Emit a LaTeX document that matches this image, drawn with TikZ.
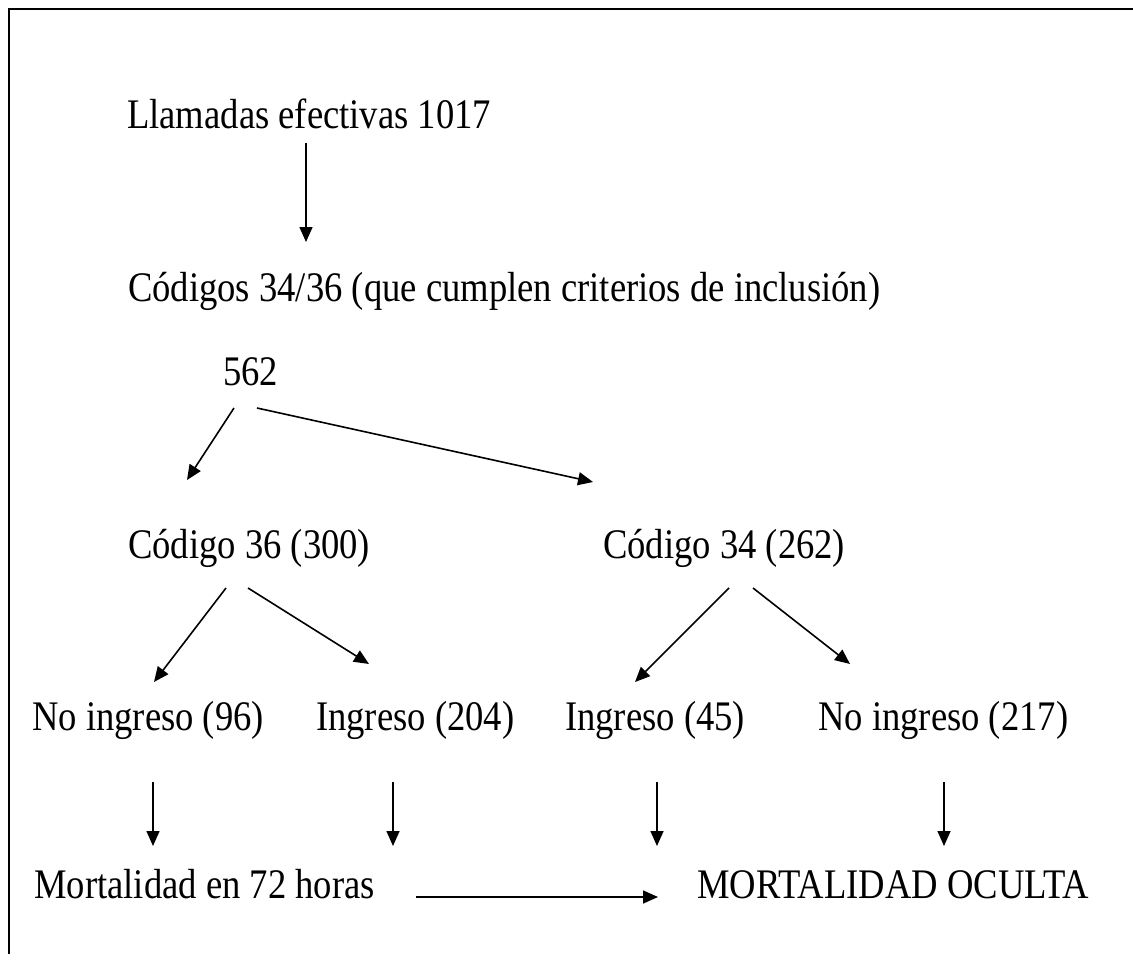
\documentclass[tikz,border=0pt]{standalone}
\usepackage{fontspec}
\setmainfont{Liberation Serif}
\usetikzlibrary{arrows.meta}
\newcommand{\txt}[1]{\scalebox{1}[1.15]{#1}}
\begin{document}
\begin{tikzpicture}[x=1pt,y=-1pt,
  lbl/.style={anchor=base west,inner sep=0pt,font=\fontsize{36.6}{42}\selectfont},
  arr/.style={-{Triangle[length=15pt,width=13pt]},line width=1.6pt}]
\useasboundingbox (0,0) rectangle (1133,963);
\draw[line width=2.2pt] (1133,9) -- (9,9) -- (9,954);
% texts
\node[lbl] (llam) at (127,129) {\txt{Llamadas efectivas 1017}};
\node[lbl] (cods) at (128,301) {\txt{Códigos 34/36 (que cumplen criterios de inclusión)}};
\node[lbl] (n562) at (223,385) {\txt{562}};
\node[lbl] (c36) at (128,558) {\txt{Código 36 (300)}};
\node[lbl] (c34) at (603,558) {\txt{Código 34 (262)}};
\node[lbl] (ni96) at (32,730) {\txt{No ingreso (96)}};
\node[lbl] (in204) at (316,730) {\txt{Ingreso (204)}};
\node[lbl] (in45) at (565,730) {\txt{Ingreso (45)}};
\node[lbl] (ni217) at (818,730) {\txt{No ingreso (217)}};
\node[lbl] (mort) at (34,898) {\txt{Mortalidad en 72 horas}};
\node[lbl] (oculta) at (697,898) {\txt{MORTALIDAD OCULTA}};
% connector end points
\coordinate (a1s) at (306,143); \coordinate (a1e) at (306,242);
\coordinate (b1s) at (234,408); \coordinate (b1e) at (187,480);
\coordinate (b2s) at (257,408); \coordinate (b2e) at (593,482);
\coordinate (c1s) at (226,588); \coordinate (c1e) at (154,682);
\coordinate (c2s) at (248,588); \coordinate (c2e) at (369,664);
\coordinate (d1s) at (729,588); \coordinate (d1e) at (635,682);
\coordinate (d2s) at (753,588); \coordinate (d2e) at (850,664);
\coordinate (v1s) at (153,782); \coordinate (v1e) at (153,846);
\coordinate (v2s) at (393,782); \coordinate (v2e) at (393,846);
\coordinate (v3s) at (657,782); \coordinate (v3e) at (657,846);
\coordinate (v4s) at (944,782); \coordinate (v4e) at (944,846);
\coordinate (hs) at (416,897); \coordinate (he) at (658,897);
\draw[arr] (a1s) -- (a1e);
\draw[arr] (b1s) -- (b1e);
\draw[arr] (b2s) -- (b2e);
\draw[arr] (c1s) -- (c1e);
\draw[arr] (c2s) -- (c2e);
\draw[arr] (d1s) -- (d1e);
\draw[arr] (d2s) -- (d2e);
\draw[arr] (v1s) -- (v1e);
\draw[arr] (v2s) -- (v2e);
\draw[arr] (v3s) -- (v3e);
\draw[arr] (v4s) -- (v4e);
\draw[arr] (hs) -- (he);
\end{tikzpicture}
\end{document}
